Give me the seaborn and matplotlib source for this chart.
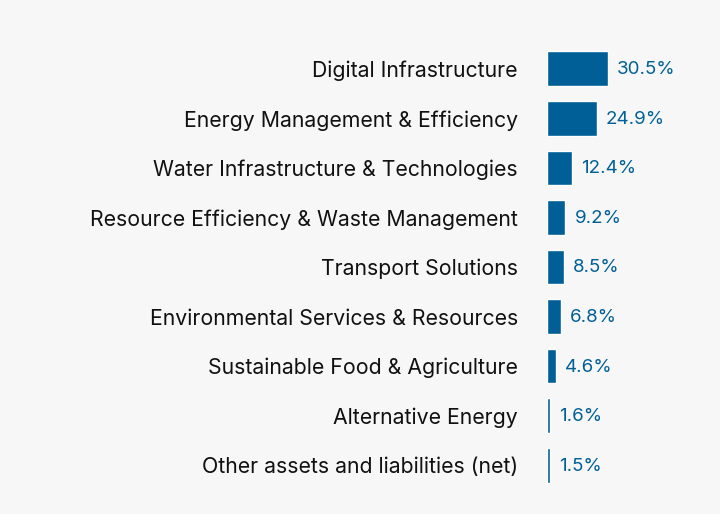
import matplotlib
matplotlib.use("Agg")
import matplotlib.pyplot as plt
import seaborn as sns
import pandas as pd

# sector weights
sectors = [
    "Digital Infrastructure",
    "Energy Management & Efficiency",
    "Water Infrastructure & Technologies",
    "Resource Efficiency & Waste Management",
    "Transport Solutions",
    "Environmental Services & Resources",
    "Sustainable Food & Agriculture",
    "Alternative Energy",
    "Other assets and liabilities (net)",
]
weights = [30.5, 24.9, 12.4, 9.2, 8.5, 6.8, 4.6, 1.6, 1.5]

df = pd.DataFrame({"sector": sectors, "weight": weights})

bg = "#f7f7f7"
blue = "#005f96"

sns.set_style("white")
plt.rcParams["font.family"] = ["Inter", "DejaVu Sans"]

fig = plt.figure(figsize=(7.2, 5.14), dpi=100, facecolor=bg)
ax = fig.add_axes([547 / 720, 24 / 514, 173 / 720, 446 / 514])
ax.set_facecolor(bg)

sns.barplot(data=df, x="weight", y="sector", color=blue, width=0.7,
            saturation=1, ax=ax)

for i, w in enumerate(weights):
    ax.text(w + 4.5, i + 0.02, f"{w}%", va="center", ha="left",
            fontsize=13.5, color=blue)

ax.set_xlim(0, 86.5)
ax.set_ylim(8.5, -0.5)
ax.set_xlabel("")
ax.set_ylabel("")
ax.set_xticks([])
ax.tick_params(axis="y", length=0, pad=21, labelsize=15.3, labelcolor="#111111")
for s in ax.spines.values():
    s.set_visible(False)

fig.savefig("out.png", dpi=100, facecolor=bg)
